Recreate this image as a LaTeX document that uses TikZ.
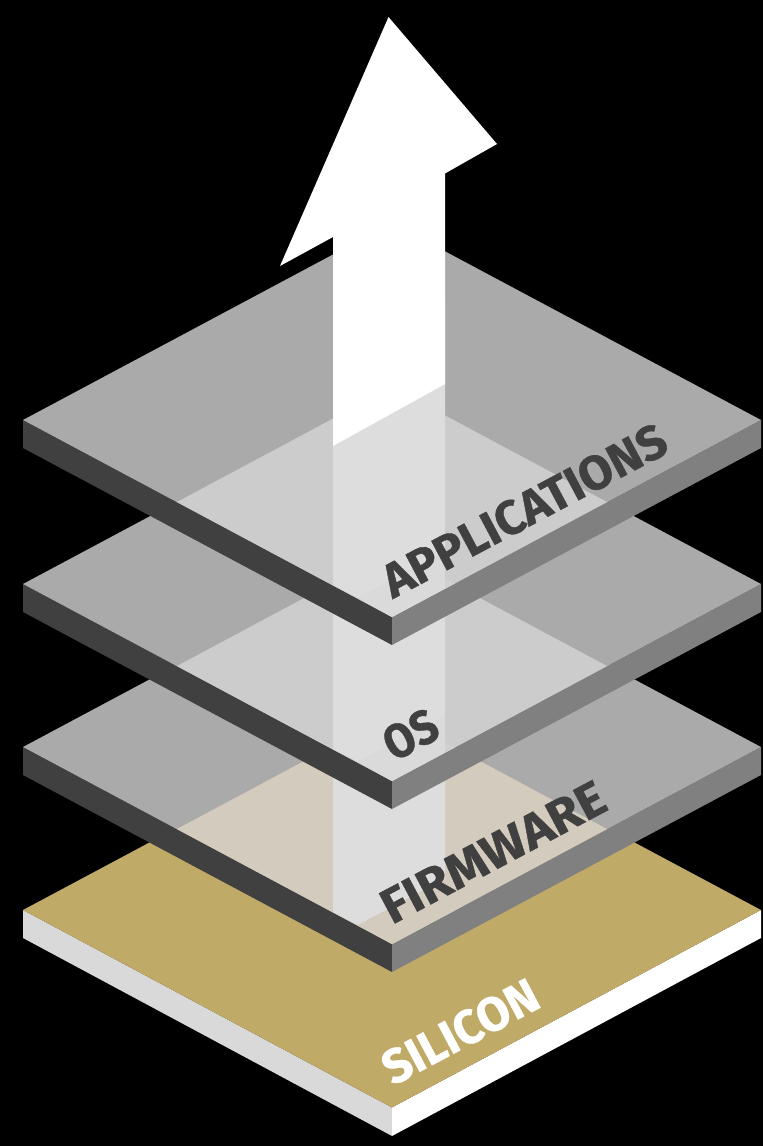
\documentclass[tikz,border=0pt]{standalone}
\usepackage{graphicx}
\usepackage{fontspec}
\setmainfont{Fira Sans}[BoldFeatures={FakeBold=0.8}]
\definecolor{plategrey}{HTML}{AAAAAA}
\definecolor{overlapgrey}{HTML}{CCCCCC}
\definecolor{columngrey}{HTML}{DDDDDD}
\definecolor{lowgrey}{HTML}{DADADA}
\definecolor{trigrey}{HTML}{D0D0D0}
\definecolor{sidedark}{HTML}{404040}
\definecolor{sidemid}{HTML}{808080}
\definecolor{gold}{HTML}{C0AA68}
\definecolor{beige}{HTML}{D3CCBE}
\definecolor{sidelight}{HTML}{D9D9D9}
\tikzset{
  platelabel/.style={anchor=base west,inner sep=0pt,outer sep=0pt,rotate=28,text=sidedark,font=\bfseries},
}
\newcommand{\glasslayer}[4]{%
  \begin{scope}[shift={(0,#1)}]
    \fill[sidedark] (23,420) -- (392,617) -- (392,645) -- (23,448) -- cycle;
    \fill[sidemid] (761,420) -- (392,617) -- (392,645) -- (761,448) -- cycle;
    \fill[plategrey] (23,420) -- (392,223) -- (761,420) -- (392,617) -- cycle;
    \fill[#2] (392,387) -- (177,502) -- (392,617) -- (607,502) -- cycle;
    \fill[columngrey] (333,300) -- (445,300) -- (445,552) -- (358,598) -- (333,585) -- cycle;
    \fill[#3] (445,552) -- (358,598) -- (392,617) -- (445,588.7) -- cycle;
    \fill[#4] (445,578) -- (455,583.5) -- (445,588.7) -- cycle;
  \end{scope}}
\begin{document}
\begin{tikzpicture}[x=1pt,y=-1pt]
  \useasboundingbox (0,0) rectangle (763,1146);
  \fill[black] (0,0) rectangle (763,1146);
  % silicon
  \fill[sidelight] (23,910) -- (392,1107.5) -- (392,1136) -- (23,938) -- cycle;
  \fill[white] (761,910) -- (392,1107.5) -- (392,1136) -- (761,938) -- cycle;
  \fill[gold] (23,910) -- (392,713) -- (761,910) -- (392,1107.5) -- cycle;
  % glass plates, bottom to top
  \glasslayer{327}{beige}{beige}{beige}
  \glasslayer{164}{overlapgrey}{lowgrey}{trigrey}
  \glasslayer{0}{overlapgrey}{lowgrey}{trigrey}
  % arrow
  \fill[white] (388.5,17) -- (497,144) -- (445,173.5) -- (445,384) -- (333,446) -- (333,237) -- (280,266) -- cycle;
  % labels
  \node[platelabel] (applications) at (393,599) {\resizebox{315pt}{34pt}{APPLICATIONS}};
  \node[platelabel] (os) at (394,762) {\resizebox{55pt}{34pt}{OS}};
  \node[platelabel] (firmware) at (392,925) {\resizebox{247pt}{34pt}{FIRMWARE}};
  \node[platelabel,text=white] (silicon) at (393,1086) {\resizebox{170pt}{34pt}{SILICON}};
\end{tikzpicture}
\end{document}
